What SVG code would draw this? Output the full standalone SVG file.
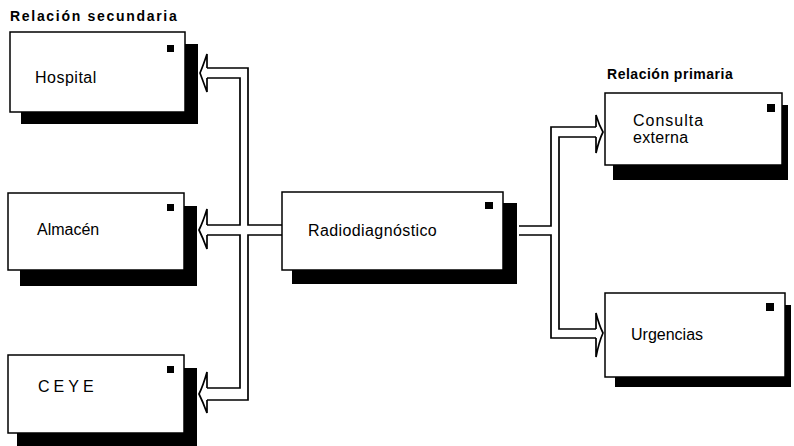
<svg xmlns="http://www.w3.org/2000/svg" width="794" height="446" viewBox="0 0 794 446">
<style>
.box{fill:#fff;stroke:#000;stroke-width:1.5}
.sh{fill:#000}
.sq{fill:#000}
.lbl{font-family:"Liberation Sans",Arial,sans-serif;font-size:16px;fill:#000}
.ttl{font-family:"Liberation Sans",Arial,sans-serif;font-size:14px;font-weight:bold;fill:#000;letter-spacing:0.3px}
.pipe{fill:none;stroke:#000;stroke-width:1.7;stroke-linejoin:miter}
</style>
<rect width="794" height="446" fill="#fff"/>
<text class="ttl" x="10" y="21" textLength="167">Relación  secundaria</text>
<text class="ttl" x="607" y="79" textLength="126">Relación primaria</text>

<g id="connectors">
<path class="pipe" d="M207,68 L248,68 L248,225 L282,225"/>
<path class="pipe" d="M282,235 L248,235 L248,400 L207,400"/>
<path class="pipe" d="M207,78 L240,78 L240,225 L207,225"/>
<path class="pipe" d="M207,235 L240,235 L240,388 L207,388"/>
<path class="pipe" d="M207,68 L207,54 Q203,66 200,73 Q203,81 207,92 L207,78"/>
<path class="pipe" d="M207,225 L207,209 Q203,222 199,230 Q203,238 207,249 L207,235"/>
<path class="pipe" d="M207,388 L207,372 Q203,386 199,394 Q203,402 207,413 L207,400"/>
<path class="pipe" d="M519,226 L551,226 L551,127 L596,127"/>
<path class="pipe" d="M519,235 L551,235 L551,338 L596,338"/>
<path class="pipe" d="M596,137 L559,137 L559,329 L596,329"/>
<path class="pipe" d="M596,127 L596,115 Q599,125 603,132 Q599,140 596,153 L596,137"/>
<path class="pipe" d="M596,329 L596,313 Q599,325 603,333 Q599,342 596,357 L596,338"/>
</g>

<g id="hospital">
<rect class="sh" x="21" y="44" width="177" height="80"/>
<rect class="box" x="10" y="32" width="175" height="80"/>
<rect class="sq" x="167" y="45" width="7" height="7"/>
<text class="lbl" x="35" y="83" style="letter-spacing:0.5px">Hospital</text>
</g>
<g id="almacen">
<rect class="sh" x="20" y="206" width="177" height="80"/>
<rect class="box" x="8" y="193" width="176" height="77"/>
<rect class="sq" x="167" y="204" width="7" height="7"/>
<text class="lbl" x="37" y="235">Almacén</text>
</g>
<g id="ceye">
<rect class="sh" x="17" y="368" width="180" height="78"/>
<rect class="box" x="8" y="355" width="176" height="78"/>
<rect class="sq" x="167" y="366" width="7" height="7"/>
<text class="lbl" x="38" y="392" style="letter-spacing:4px">CEYE</text>
</g>
<g id="radiodiagnostico">
<rect class="sh" x="292" y="203" width="225" height="81"/>
<rect class="box" x="282" y="192" width="221" height="78"/>
<rect class="sq" x="485" y="202" width="8" height="7"/>
<text class="lbl" x="308" y="236" style="letter-spacing:0.4px">Radiodiagnóstico</text>
</g>
<g id="consulta">
<rect class="sh" x="613" y="105" width="175" height="75"/>
<rect class="box" x="605" y="93" width="177" height="72"/>
<rect class="sq" x="767" y="104" width="8" height="8"/>
<text class="lbl" x="633" y="126" style="letter-spacing:1px">Consulta</text>
<text class="lbl" x="633" y="143" style="letter-spacing:0.3px">externa</text>
</g>
<g id="urgencias">
<rect class="sh" x="615" y="305" width="176" height="82"/>
<rect class="box" x="605" y="293" width="180" height="84"/>
<rect class="sq" x="766" y="303" width="8" height="8"/>
<text class="lbl" x="631" y="340">Urgencias</text>
</g>
</svg>
